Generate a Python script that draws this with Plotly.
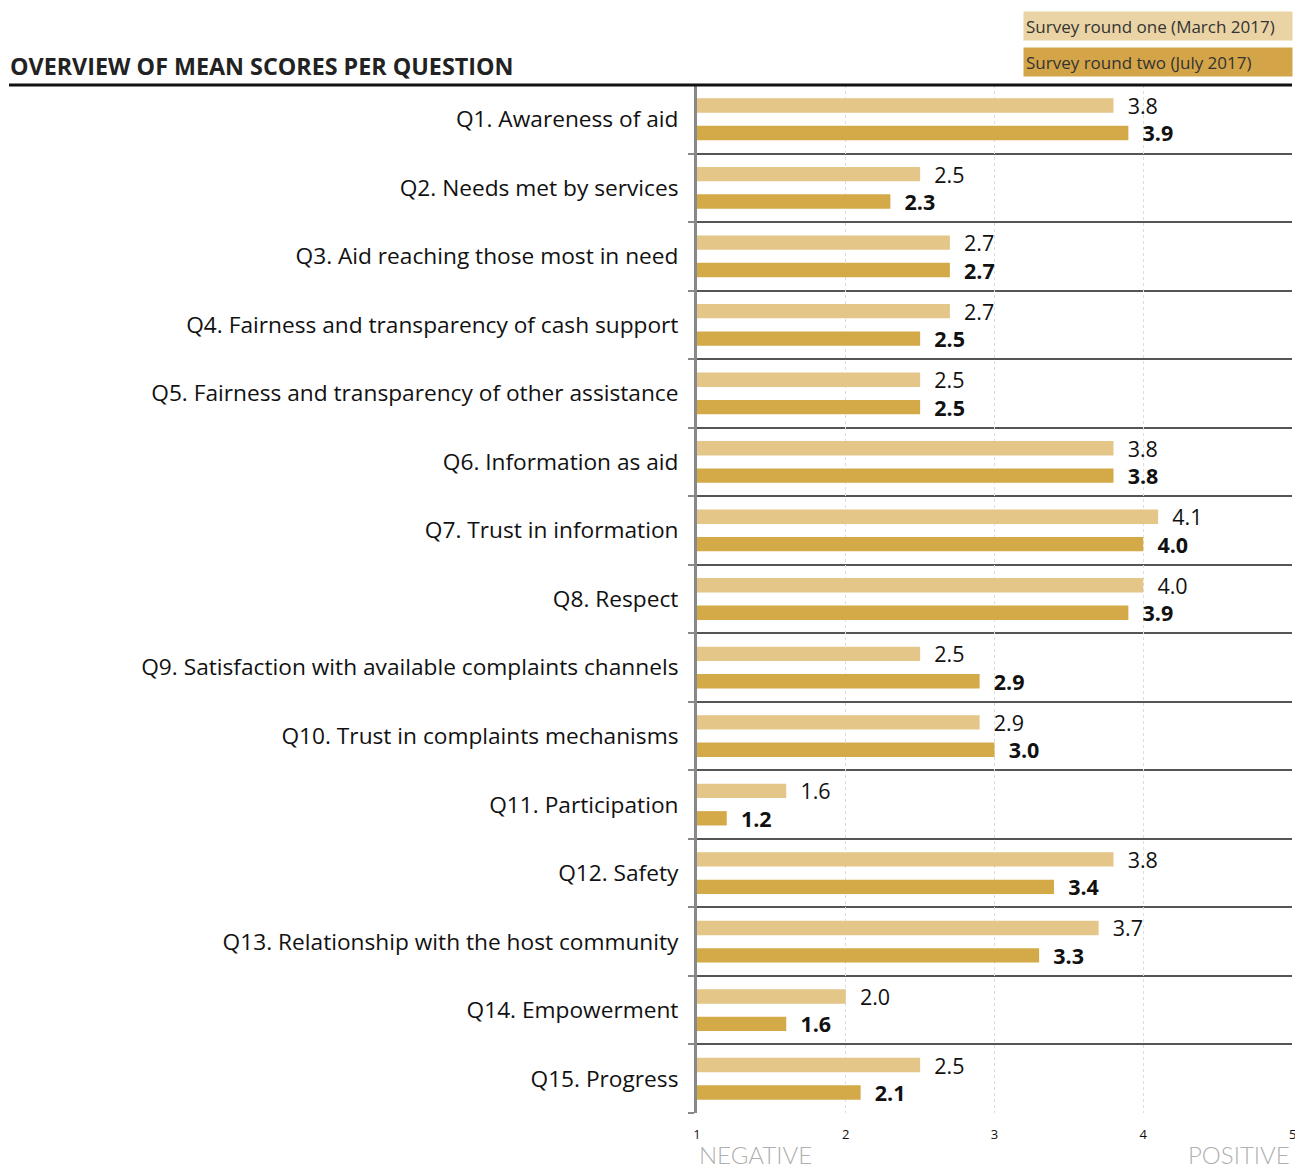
import plotly.graph_objects as go

# Survey questions (top to bottom)
questions = [
    "Q1. Awareness of aid",
    "Q2. Needs met by services",
    "Q3. Aid reaching those most in need",
    "Q4. Fairness and transparency of cash support",
    "Q5. Fairness and transparency of other assistance",
    "Q6. Information as aid",
    "Q7. Trust in information",
    "Q8. Respect",
    "Q9. Satisfaction with available complaints channels",
    "Q10. Trust in complaints mechanisms",
    "Q11. Participation",
    "Q12. Safety",
    "Q13. Relationship with the host community",
    "Q14. Empowerment",
    "Q15. Progress",
]
round_one = [3.8, 2.5, 2.7, 2.7, 2.5, 3.8, 4.1, 4.0, 2.5, 2.9, 1.6, 3.8, 3.7, 2.0, 2.5]
round_two = [3.9, 2.3, 2.7, 2.5, 2.5, 3.8, 4.0, 3.9, 2.9, 3.0, 1.2, 3.4, 3.3, 1.6, 2.1]
round_one_name = "Survey round one (March 2017)"
round_two_name = "Survey round two (July 2017)"
x_ticks = [1, 2, 3, 4, 5]

light = "#E3C688"
dark = "#D4A948"
FONT = "Open Sans"
base = 1

rows = list(range(len(questions)))

fig = go.Figure()

fig.add_trace(go.Bar(
    y=[r - 0.2 for r in rows],
    x=[v - base for v in round_one],
    base=base,
    orientation="h",
    width=0.21,
    marker=dict(color=light, line=dict(width=0)),
    text=[f"\u00a0\u00a0{v:.1f}" for v in round_one],
    textposition="outside",
    constraintext="none",
    textfont=dict(size=21.5, color="#111", family=FONT),
    cliponaxis=False,
    hoverinfo="skip",
    name=round_one_name,
    showlegend=False,
))
fig.add_trace(go.Bar(
    y=[r + 0.2 for r in rows],
    x=[v - base for v in round_two],
    base=base,
    orientation="h",
    width=0.21,
    marker=dict(color=dark, line=dict(width=0)),
    text=[f"\u00a0\u00a0<b>{v:.1f}</b>" for v in round_two],
    textposition="outside",
    constraintext="none",
    textfont=dict(size=21.5, color="#111", family=FONT),
    cliponaxis=False,
    hoverinfo="skip",
    name=round_two_name,
    showlegend=False,
))

W, H = 1295, 1171
L, R, T, B = 697, 3, 85, 58
pw, ph = W - L - R, H - T - B


def px_x(p):
    return (p - L) / pw


def px_y(p):
    return (H - B - p) / ph


annotations = [
    dict(text="OVERVIEW OF MEAN SCORES PER QUESTION", xref="paper", yref="paper",
         x=px_x(8), y=px_y(66), xanchor="left", yanchor="middle", showarrow=False,
         font=dict(size=23.3, family="Open Sans", color="#222", weight="bold")),
    dict(text=round_one_name, xref="paper", yref="paper", x=px_x(1293), y=px_y(26),
         xanchor="right", yanchor="middle", showarrow=False, bgcolor="#EAD3A4",
         width=264, height=24, align="left", borderpad=2,
         font=dict(size=17, family=FONT, color="#333")),
    dict(text=round_two_name, xref="paper", yref="paper", x=px_x(1293), y=px_y(62),
         xanchor="right", yanchor="middle", showarrow=False, bgcolor="#D4A548",
         width=264, height=24, align="left", borderpad=2,
         font=dict(size=17, family=FONT, color="#333")),
    # last tick label sits on the right edge, plotly drops it, so add it back
    dict(text=str(x_ticks[-1]), xref="x", yref="paper", x=x_ticks[-1], y=px_y(1134),
         xanchor="center", yanchor="middle", showarrow=False,
         font=dict(size=13, family=FONT, color="#111")),
    dict(text="NEGATIVE", xref="paper", yref="paper", x=0, y=px_y(1154),
         xanchor="left", yanchor="middle", showarrow=False,
         font=dict(size=24, family="Lato", color="#B0B0B0", weight=300)),
    dict(text="POSITIVE", xref="paper", yref="paper", x=1, y=px_y(1154),
         xanchor="right", yanchor="middle", showarrow=False,
         font=dict(size=24, family="Lato", color="#B0B0B0", weight=300)),
]

shapes = [
    dict(type="line", xref="paper", yref="paper", x0=px_x(9), x1=1, y0=1, y1=1,
         line=dict(color="#111", width=3)),
]

fig.update_layout(
    width=W, height=H,
    margin=dict(l=L, r=R, t=T, b=B),
    paper_bgcolor="white",
    plot_bgcolor="white",
    barmode="overlay",
    hovermode=False,
    font=dict(family=FONT, color="#111"),
    annotations=annotations,
    shapes=shapes,
    xaxis=dict(
        range=[1, 5],
        tickvals=x_ticks,
        ticktext=[str(t) for t in x_ticks],
        tickfont=dict(size=13, family=FONT, color="#111"),
        showgrid=True,
        gridcolor="#DDDDDD",
        griddash="dot",
        gridwidth=1,
        zeroline=False,
        showline=False,
        ticks="",
        ticklabelstandoff=12,
    ),
    yaxis=dict(
        range=[len(questions) - 0.5, -0.5],
        tickvals=rows,
        ticktext=questions,
        tickfont=dict(size=22.7, family=FONT, color="#111"),
        showgrid=False,
        zeroline=False,
        showline=True,
        linecolor="#888",
        linewidth=3,
        ticks="",
        ticklabelstandoff=11,
        minor=dict(
            tickvals=[r + 0.5 for r in [-1] + rows],
            showgrid=True,
            gridcolor="#555",
            gridwidth=1.5,
            ticks="outside",
            ticklen=6,
            tickcolor="#888",
            tickwidth=2,
        ),
    ),
)

fig.write_html("out.html", config={"displayModeBar": False},
               post_script="document.body.style.margin='0';")
